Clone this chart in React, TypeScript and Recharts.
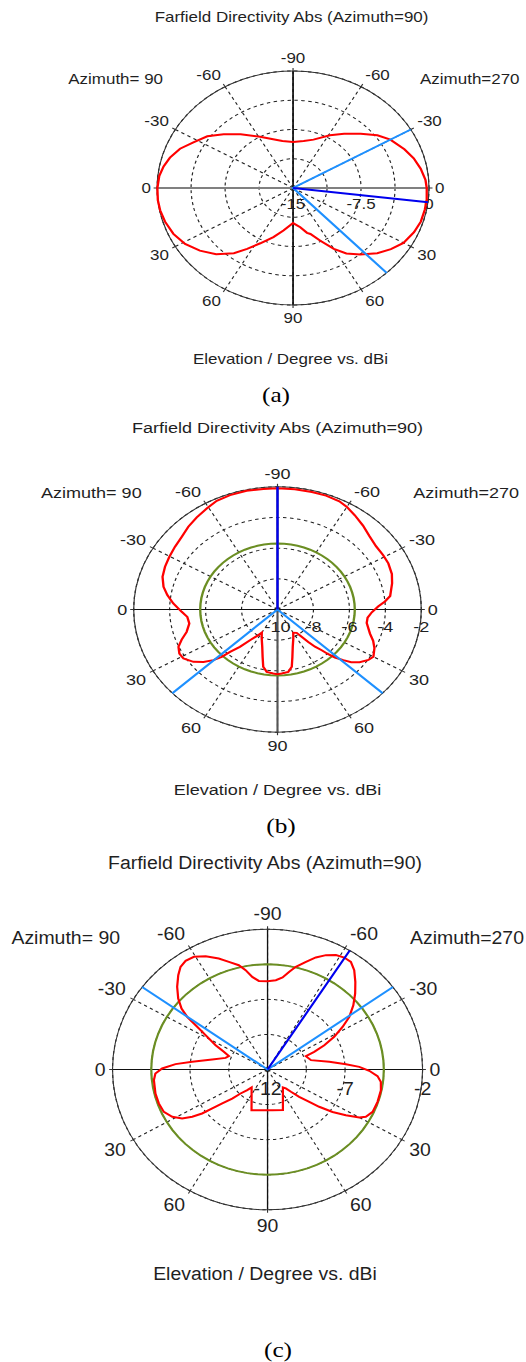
import { RadarChart, Radar, PolarGrid, PolarAngleAxis, PolarRadiusAxis } from "recharts";

const FONT = "'Liberation Sans', Arial, sans-serif";
const TEXT = "#1f1f1f";
const RED = "#ff0000";
const SKY = "#1e90ff";
const NAVY = "#0000ee";
const OLIVE = "#6b8e23";

// clockwise angle from the top of the plot, 0..360
const ANGLE_TICKS = [0, 30, 60, 90, 120, 150, 180, 210, 240, 270, 300, 330];
const CIRCLE_ANGLES = Array.from({ length: 72 }, (_, i) => i * 5);

// (a)
const A_RED_ANGLE = [0, 11, 20, 31, 39, 47, 54, 60, 68, 74, 80, 86, 90, 96, 101, 107, 113, 120, 126, 132, 139, 145, 150, 156, 162, 165, 171, 180, 191, 199, 207, 213, 218, 225, 232, 239, 246, 253, 259, 264, 270, 276, 281, 286, 292, 298, 305, 312, 320, 331, 344, 349];
const A_RED_DBI = [-9.1, -8.85, -8.4, -7.1, -6.05, -4.8, -3.5, -2.6, -1.75, -1.15, -0.7, -0.35, -0.25, -0.17, -0.2, -0.26, -0.5, -0.93, -1.65, -2.5, -3.7, -4.75, -6.0, -7.6, -8.8, -9.05, -9.9, -10.5, -9.45, -8.35, -7.05, -5.7, -4.4, -3.0, -1.95, -1.1, -0.55, -0.23, -0.06, 0, -0.03, -0.16, -0.45, -0.87, -1.55, -2.55, -3.45, -4.7, -6.0, -7.5, -8.6, -8.85];
const A_RADIAL_TICKS = [-15, -11.25, -7.5, -3.75, 0];
const A_RADIAL_LABELS = [-15, -7.5, 0];
const A_BEAMS = [60, 136.5];
const A_PEAK = 97;

// (b)
const B_RED_ANGLE = [0, 7, 14, 20, 26, 30, 35, 41, 47, 53, 59, 64, 70, 75, 82, 85, 88, 92, 96, 100, 107, 111, 115, 120, 123, 127, 130, 132, 134.4, 135.9, 137.2, 139.3, 141, 143, 145, 150, 155, 160.8, 165, 168, 171.6, 176.8, 180, 183.2, 188.4, 192, 195, 199.2, 205, 210, 212.5, 217.4, 220.7, 223.7, 225.1, 227.2, 230.3, 233.9, 238.6, 242.2, 246.2, 249.8, 253.9, 259.5, 264.5, 268.4, 273.9, 278.7, 283.1, 288.4, 294, 299.7, 305.7, 311.6, 317.4, 323.2, 329.1, 334.5, 340.5, 347.5, 354.3];
const B_RED_DBI = [-2.1, -2.1, -2.1, -2.1, -2.15, -2.28, -2.5, -2.75, -3.0, -3.14, -3.14, -3.14, -3.23, -3.4, -3.67, -4.0, -4.4, -4.75, -4.96, -4.96, -4.62, -4.3, -4.05, -3.84, -3.97, -4.28, -4.65, -5.07, -5.53, -5.94, -6.38, -6.8, -7.28, -7.77, -8.14, -8.25, -7.92, -7.42, -6.8, -6.18, -5.89, -5.82, -5.78, -5.82, -5.89, -6.18, -6.8, -7.42, -7.92, -8.25, -8.02, -7.48, -6.79, -6.18, -5.62, -5.14, -4.65, -4.21, -3.87, -3.83, -3.98, -4.32, -4.74, -5.01, -4.96, -4.67, -4.19, -3.8, -3.49, -3.26, -3.15, -3.07, -2.98, -2.87, -2.67, -2.5, -2.33, -2.15, -2.09, -2.07, -2.1];
const B_RADIAL_TICKS = [-10, -8, -6, -4, -2];
const B_RADIAL_LABELS = [-10, -8, -6, -4, -2];
const B_GREEN = -5.7;
const B_BEAMS = [133, 227];
const B_PEAK = 0;

// (c)
const C_RED_ANGLE = [0, 4.8, 8.4, 11.4, 14, 17.9, 21.3, 24.8, 28.4, 31.8, 35, 38.3, 42.2, 46.2, 50.4, 54.6, 57.9, 61.5, 64.7, 67.3, 69, 76.6, 82.2, 85.7, 88.2, 90.8, 93.8, 96.9, 101.4, 108, 114, 118, 120, 122.8, 125.8, 128.6, 130.5, 133.7, 136.4, 138.8, 142.3, 161.1, 173.7, 180, 186.3, 199.6, 218.8, 221.7, 225.5, 227.8, 230.4, 232.1, 233.4, 235.3, 237.7, 241.3, 245.7, 251, 256.7, 264.1, 267.7, 270.6, 273.7, 276.4, 281.2, 287, 290.9, 294.1, 297.3, 300.9, 303, 304.6, 305.9, 308.1, 311.3, 315.3, 319.4, 322.5, 325.7, 329.4, 333.7, 338.3, 342, 346, 348.7, 351.5, 354.9];
const C_RED_DBI = [-5.71, -5.61, -5.37, -4.9, -4.46, -3.94, -3.43, -3.02, -2.73, -2.61, -2.63, -2.98, -3.57, -4.17, -4.82, -5.53, -6.29, -7.11, -7.95, -8.74, -9.35, -9.12, -7.98, -6.93, -6.08, -5.44, -4.89, -4.64, -4.54, -4.54, -4.58, -4.82, -5.17, -5.99, -6.83, -7.74, -8.46, -9.18, -9.81, -10.21, -10.38, -8.94, -9.08, -9.1, -9.08, -8.92, -10.36, -10.03, -9.56, -8.92, -8.21, -7.48, -6.74, -6.09, -5.48, -4.99, -4.66, -4.58, -4.57, -4.63, -4.76, -5.2, -6.05, -7.11, -8.36, -9.17, -9.33, -8.91, -8.23, -7.47, -6.85, -6.23, -5.6, -4.95, -4.33, -3.71, -3.15, -2.78, -2.62, -2.67, -2.99, -3.49, -3.93, -4.34, -4.78, -5.33, -5.66];
const C_RADIAL_TICKS = [-12, -9.5, -7, -4.5, -2];
const C_RADIAL_LABELS = [-12, -7, -2];
const C_GREEN = -4.5;
const C_BEAMS = [54, 306];
const C_PEAK = 32;

const elevLabel = (c: number) => (c <= 180 ? c - 90 : 270 - c);

type Panel = {
  cx: number; cy: number; R: number; k: number; fs: number;
  domain: [number, number];
  radialTicks: number[]; radialLabels: number[];
  redAngle: number[]; redDbi: number[];
  green?: number; beams: number[]; peak: number;
  hAxis: [string, number]; vAxis: [string, number];
  title: [number, number]; azL: [number, number]; azR: [number, number]; xlabel: [number, number];
  caption: [string, number, number];
};

const PANELS: Panel[] = [
  {
    cx: 292.7, cy: 187.7, R: 117, k: 1.162, fs: 14.6, domain: [-15, 0],
    radialTicks: A_RADIAL_TICKS, radialLabels: A_RADIAL_LABELS,
    redAngle: A_RED_ANGLE, redDbi: A_RED_DBI, beams: A_BEAMS, peak: A_PEAK,
    hAxis: ["#808080", 2], vAxis: ["#111", 1.5],
    title: [291.7, 16.7], azL: [181.1, 79], azR: [402.3, 79], xlabel: [290.8, 359.3],
    caption: ["(a)", 276, 395],
  },
  {
    cx: 277.5, cy: 609.3, R: 122.7, k: 1.172, fs: 15.4, domain: [-10, -2],
    radialTicks: B_RADIAL_TICKS, radialLabels: B_RADIAL_LABELS,
    redAngle: B_RED_ANGLE, redDbi: B_RED_DBI, green: B_GREEN, beams: B_BEAMS, peak: B_PEAK,
    hAxis: ["#111", 1.2], vAxis: ["#555", 1.8],
    title: [277.5, 428.3], azL: [161.6, 493.3], azR: [393.4, 493.3], xlabel: [277.5, 790],
    caption: ["(b)", 281, 826],
  },
  {
    cx: 267, cy: 1069.3, R: 140.3, k: 1.105, fs: 17.6, domain: [-12, -2],
    radialTicks: C_RADIAL_TICKS, radialLabels: C_RADIAL_LABELS,
    redAngle: C_RED_ANGLE, redDbi: C_RED_DBI, green: C_GREEN, beams: C_BEAMS, peak: C_PEAK,
    hAxis: ["#111", 1.2], vAxis: ["#111", 1.2],
    title: [265.2, 864], azL: [134, 938.3], azR: [396.4, 938.3], xlabel: [265.2, 1275],
    caption: ["(c)", 277.5, 1350],
  },
];

// every row of the line layer touches the centre or the rim, so the polygon only runs along spokes
function lineRows(p: Panel) {
  const rows: Record<string, number>[] = [];
  p.beams.forEach((a) => {
    rows.push({ angle: a, beam: p.domain[1] });
    rows.push({ angle: a, beam: p.domain[0] });
  });
  rows.push({ angle: p.peak, peak: p.domain[1] });
  rows.push({ angle: p.peak, peak: p.domain[0] });
  return rows;
}

function Txt({ x, y, fs, align, children }: { x: number; y: number; fs: number; align: "left" | "right" | "center"; children: any }) {
  const style: any = {
    position: "absolute", top: y - fs * 0.55, fontSize: fs, lineHeight: `${fs * 1.1}px`,
    whiteSpace: "nowrap", fontFamily: FONT, color: TEXT,
  };
  if (align === "center") { style.left = x; style.transform = "translateX(-50%)"; }
  if (align === "left") style.left = x;
  if (align === "right") style.right = 526 - x;
  return <div style={style}>{children}</div>;
}

function PolarPanel({ p }: { p: Panel }) {
  const W = Math.round(2 * (p.R + 70));
  const H = Math.round(2 * (p.R + 40));
  const redRows = p.redAngle.map((a, i) => ({ angle: a, red: p.redDbi[i] }));
  const greenRows = p.green !== undefined ? CIRCLE_ANGLES.map((a) => ({ angle: a, green: p.green })) : [];
  const lines = lineRows(p);

  const angleTick = (props: any) => {
    const ang = props.payload.coordinate;
    const rad = (ang * Math.PI) / 180;
    const ux = Math.cos(rad);
    const uy = -Math.sin(rad);
    const d = p.R * (1.045 + 0.02 * Math.abs(uy));
    const x = W / 2 + ux * d;
    const y = H / 2 + uy * d;
    const anchor = ux > 0.05 ? "start" : ux < -0.05 ? "end" : "middle";
    const base = uy < -0.05 ? y : uy > 0.05 ? y + 0.72 * p.fs : y + 0.36 * p.fs;
    return (
      <text x={x} y={base} textAnchor={anchor} fontSize={p.fs} fontFamily={FONT} fill={TEXT}>
        {elevLabel(props.payload.value)}
      </text>
    );
  };

  const radiusTick = (props: any) => {
    const v = props.payload.value;
    if (!p.radialLabels.includes(v)) return <g />;
    return (
      <text x={props.x} y={props.y + 0.135 * p.R + 0.36 * p.fs} textAnchor="middle" fontSize={p.fs} fontFamily={FONT} fill={TEXT}>
        {v}
      </text>
    );
  };

  const layer = (rows: any[], children: any, withAxes: boolean) => (
    <div style={{ position: "absolute", left: p.cx - W / 2, top: p.cy - H / 2, width: W, height: H }}>
      <RadarChart
        width={W} height={H} data={rows} cx={W / 2} cy={H / 2}
        outerRadius={p.R} innerRadius={0} startAngle={90} endAngle={-270}
        margin={{ top: 0, right: 0, bottom: 0, left: 0 }}
      >
        {withAxes && <PolarGrid gridType="circle" stroke="#222" strokeDasharray="3 3" strokeWidth={1} />}
        {withAxes && <PolarGrid gridType="circle" polarAngles={[0, 180]} polarRadius={[]} stroke={p.hAxis[0]} strokeWidth={p.hAxis[1]} />}
        {withAxes && <PolarGrid gridType="circle" polarAngles={[90, 270]} polarRadius={[]} stroke={p.vAxis[0]} strokeWidth={p.vAxis[1]} />}
        <PolarAngleAxis
          dataKey="angle" type="number" domain={[0, 360]} ticks={ANGLE_TICKS as any}
          axisLineType="circle" axisLine={withAxes ? { stroke: "#333", strokeWidth: 1 } : false}
          tickLine={withAxes ? { stroke: "#333" } : false} tickSize={3} tick={withAxes ? angleTick : false}
        />
        <PolarRadiusAxis
          angle={0} type="number" domain={p.domain} ticks={p.radialTicks as any} allowDataOverflow
          axisLine={false} tickLine={false} tick={withAxes ? radiusTick : false}
        />
        {children}
      </RadarChart>
    </div>
  );

  return (
    <div
      style={{
        position: "absolute", left: 0, top: 0, width: 526, height: 1362,
        transformOrigin: `${p.cx}px 0px`, transform: `scaleX(${p.k})`,
      }}
    >
      <Txt x={p.title[0]} y={p.title[1]} fs={p.fs} align="center">Farfield Directivity Abs (Azimuth=90)</Txt>
      <Txt x={p.azL[0]} y={p.azL[1]} fs={p.fs} align="right">Azimuth= 90</Txt>
      <Txt x={p.azR[0]} y={p.azR[1]} fs={p.fs} align="left">Azimuth=270</Txt>
      <Txt x={p.xlabel[0]} y={p.xlabel[1]} fs={p.fs} align="center">Elevation / Degree vs. dBi</Txt>
      {layer(
        greenRows.length ? greenRows : redRows,
        greenRows.length ? (
          <Radar dataKey="green" stroke={OLIVE} strokeWidth={2} fill="none" fillOpacity={0} dot={false} isAnimationActive={false} />
        ) : null,
        true
      )}
      {layer(
        redRows,
        <Radar dataKey="red" stroke={RED} strokeWidth={2} fill="none" fillOpacity={0} dot={false} isAnimationActive={false} />,
        false
      )}
      {layer(
        lines,
        [
          <Radar key="beam" dataKey="beam" stroke={SKY} strokeWidth={2} fill="none" fillOpacity={0} dot={false} isAnimationActive={false} />,
          <Radar key="peak" dataKey="peak" stroke={NAVY} strokeWidth={2} fill="none" fillOpacity={0} dot={false} isAnimationActive={false} />,
        ],
        false
      )}
    </div>
  );
}

export default function App() {
  return (
    <div style={{ position: "absolute", left: 0, top: 0, width: 526, height: 1362, background: "#fff", overflow: "hidden" }}>
      {PANELS.map((p, i) => (
        <PolarPanel key={i} p={p} />
      ))}
      {PANELS.map((p, i) => (
        <div
          key={"cap" + i}
          style={{
            position: "absolute", left: p.caption[1], top: p.caption[2] - 13,
            transform: "translateX(-50%) scaleX(1.15)", fontFamily: "'Liberation Serif', 'Times New Roman', serif",
            fontSize: 22, lineHeight: "26px", color: "#000", whiteSpace: "nowrap",
          }}
        >
          {p.caption[0]}
        </div>
      ))}
    </div>
  );
}
